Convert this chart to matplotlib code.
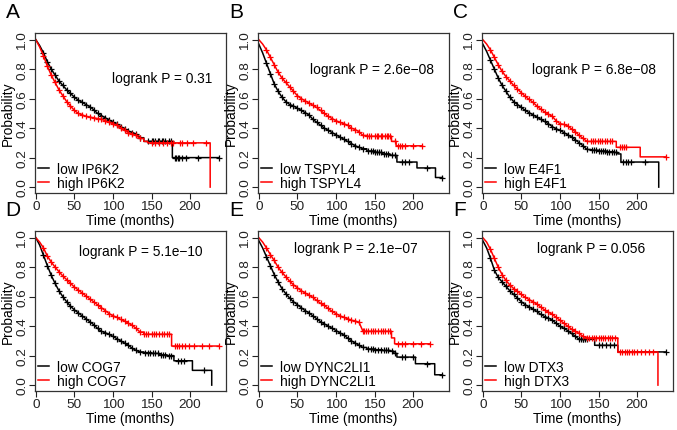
import numpy as np
import matplotlib
matplotlib.use("Agg")
import matplotlib.pyplot as plt

plt.rcParams['font.family'] = ['Liberation Sans', 'DejaVu Sans']

letters = ["A", "B", "C", "D", "E", "F"]
genes = ["IP6K2", "TSPYL4", "E4F1", "COG7", "DYNC2LI1", "DTX3"]
pvals = ["0.31", "2.6e\u221208", "6.8e\u221208", "5.1e\u221210", "2.1e\u221207", "0.056"]
p_x = [164, 147, 144, 136, 126, 140]
p_y = [0.74, 0.80, 0.80, 0.91, 0.93, 0.93]

# common early time grid (months)
grid = [0, 5, 10, 15, 20, 25, 30, 35, 40, 45, 50, 55, 60, 65, 70, 75, 80, 85,
        90, 95, 100, 105, 110, 115, 120, 125, 130, 135]

# ---- A: IP6K2
A_low_s = [1.0, 0.96, 0.91, 0.85, 0.80, 0.76, 0.72, 0.69, 0.66, 0.635, 0.61, 0.59, 0.575, 0.56,
           0.545, 0.525, 0.50, 0.485, 0.47, 0.455, 0.44, 0.425, 0.41, 0.395, 0.38, 0.37, 0.36, 0.335]
A_low_tt = [140, 177, 237]
A_low_ts = [0.31, 0.20, 0.20]
A_low_c = [145, 150, 152, 155, 158, 160, 163, 165, 168, 172, 175, 180, 182, 184, 186, 190, 195, 210, 237]
A_high_s = [1.0, 0.95, 0.89, 0.82, 0.76, 0.71, 0.66, 0.62, 0.58, 0.55, 0.52, 0.50, 0.49, 0.48,
            0.475, 0.47, 0.465, 0.46, 0.45, 0.44, 0.43, 0.42, 0.40, 0.385, 0.37, 0.36, 0.35, 0.33]
A_high_tt = [140, 145, 226, 226]
A_high_ts = [0.31, 0.30, 0.0, 0.0]
A_high_c = [150, 155, 160, 165, 170, 175, 178, 187, 190, 196, 204, 221]

# ---- B: TSPYL4
B_low_s = [0.97, 0.91, 0.84, 0.77, 0.70, 0.65, 0.61, 0.58, 0.56, 0.55, 0.535, 0.52, 0.505, 0.49,
           0.46, 0.44, 0.42, 0.40, 0.385, 0.37, 0.355, 0.34, 0.325, 0.31, 0.295, 0.28, 0.27, 0.26]
B_low_tt = [140, 150, 160, 170, 179, 205, 229, 238]
B_low_ts = [0.245, 0.235, 0.225, 0.215, 0.17, 0.13, 0.065, 0.065]
B_low_c = [142, 145, 148, 150, 153, 156, 158, 162, 165, 168, 172, 176, 185, 190, 195, 218, 238]
B_high_s = [1.0, 0.97, 0.93, 0.88, 0.83, 0.78, 0.74, 0.71, 0.68, 0.65, 0.62, 0.60, 0.585, 0.57,
            0.555, 0.54, 0.52, 0.50, 0.48, 0.465, 0.45, 0.44, 0.43, 0.42, 0.40, 0.39, 0.375, 0.35]
B_high_tt = [140, 172, 178, 212]
B_high_ts = [0.345, 0.31, 0.28, 0.28]
B_high_c = [140, 143, 146, 150, 153, 155, 158, 160, 163, 166, 168, 170, 176, 180, 183, 186, 190, 200, 212]

# ---- C: E4F1
C_low_s = [0.97, 0.92, 0.86, 0.80, 0.74, 0.69, 0.65, 0.61, 0.58, 0.56, 0.54, 0.52, 0.505, 0.49,
           0.475, 0.46, 0.445, 0.43, 0.41, 0.395, 0.385, 0.37, 0.355, 0.34, 0.32, 0.30, 0.28, 0.255]
C_low_tt = [140, 150, 160, 170, 175, 179, 228, 228]
C_low_ts = [0.25, 0.245, 0.24, 0.235, 0.225, 0.17, 0.0, 0.0]
C_low_c = [141, 144, 147, 150, 153, 156, 158, 161, 164, 167, 170, 173, 182, 185, 188, 192, 210]
C_high_s = [1.0, 0.97, 0.93, 0.88, 0.83, 0.785, 0.75, 0.72, 0.69, 0.665, 0.64, 0.615, 0.595, 0.575,
            0.55, 0.53, 0.51, 0.495, 0.48, 0.45, 0.43, 0.425, 0.415, 0.395, 0.375, 0.35, 0.33, 0.31]
C_high_tt = [173, 204, 237]
C_high_ts = [0.27, 0.205, 0.205]
C_high_c = [140, 143, 146, 149, 152, 155, 158, 161, 165, 168, 178, 180, 183, 186, 237]

# ---- D: COG7
D_low_s = [1.0, 0.95, 0.88, 0.81, 0.745, 0.69, 0.64, 0.60, 0.565, 0.535, 0.51, 0.49, 0.47, 0.45,
           0.43, 0.41, 0.385, 0.365, 0.355, 0.345, 0.33, 0.315, 0.30, 0.285, 0.27, 0.25, 0.235, 0.225]
D_low_tt = [140, 150, 160, 170, 179, 203, 228, 228]
D_low_ts = [0.22, 0.215, 0.205, 0.20, 0.165, 0.10, 0.0, 0.0]
D_low_c = [142, 145, 148, 152, 155, 158, 162, 165, 168, 172, 175, 184, 188, 192, 218]
D_high_s = [1.0, 0.97, 0.93, 0.875, 0.835, 0.80, 0.77, 0.74, 0.715, 0.69, 0.665, 0.645, 0.625, 0.605,
            0.585, 0.565, 0.545, 0.525, 0.505, 0.485, 0.47, 0.46, 0.445, 0.435, 0.42, 0.405, 0.385, 0.36]
D_high_tt = [140, 176, 237]
D_high_ts = [0.345, 0.265, 0.265]
D_high_c = [140, 143, 146, 150, 153, 156, 160, 163, 166, 170, 173, 180, 183, 186, 190, 194, 198, 205, 215, 225, 237]

# ---- E: DYNC2LI1
E_low_s = [0.98, 0.93, 0.87, 0.81, 0.75, 0.70, 0.655, 0.62, 0.59, 0.565, 0.545, 0.525, 0.505, 0.49,
           0.47, 0.45, 0.43, 0.415, 0.40, 0.385, 0.37, 0.355, 0.34, 0.32, 0.30, 0.285, 0.27, 0.255]
E_low_tt = [140, 150, 160, 170, 175, 179, 203, 228, 238]
E_low_ts = [0.245, 0.24, 0.235, 0.23, 0.215, 0.19, 0.145, 0.07, 0.07]
E_low_c = [142, 145, 148, 151, 155, 158, 162, 165, 168, 172, 176, 185, 190, 200, 218, 238]
E_high_s = [1.0, 0.97, 0.93, 0.885, 0.845, 0.80, 0.765, 0.735, 0.705, 0.68, 0.66, 0.64, 0.625, 0.61,
            0.595, 0.575, 0.555, 0.54, 0.52, 0.50, 0.485, 0.47, 0.46, 0.45, 0.44, 0.435, 0.425, 0.365]
E_high_tt = [172, 176, 222]
E_high_ts = [0.32, 0.28, 0.28]
E_high_c = [136, 139, 142, 145, 148, 151, 154, 158, 161, 164, 167, 170, 180, 185, 190, 200, 210, 222]

# ---- F: DTX3
F_low_s = [0.98, 0.93, 0.86, 0.78, 0.73, 0.70, 0.67, 0.64, 0.615, 0.59, 0.565, 0.545, 0.53, 0.515,
           0.50, 0.48, 0.465, 0.455, 0.44, 0.42, 0.40, 0.385, 0.37, 0.35, 0.33, 0.31, 0.31, 0.31]
F_low_tt = [145, 175, 237]
F_low_ts = [0.27, 0.225, 0.225]
F_low_c = [127, 130, 133, 150, 155, 160, 165, 170, 237]
F_high_s = [1.0, 0.97, 0.92, 0.86, 0.80, 0.75, 0.71, 0.68, 0.655, 0.635, 0.615, 0.595, 0.58, 0.565,
            0.55, 0.53, 0.51, 0.495, 0.48, 0.46, 0.44, 0.42, 0.40, 0.38, 0.365, 0.35, 0.33, 0.32]
F_high_tt = [175, 227, 227]
F_high_ts = [0.225, 0.0, 0.0]
F_high_c = [138, 141, 144, 147, 150, 153, 156, 159, 162, 165, 168, 171, 178, 181, 184, 187, 190,
            193, 196, 200, 205, 210, 215, 220]

panels = [
    ((A_low_s, A_low_tt, A_low_ts, A_low_c), (A_high_s, A_high_tt, A_high_ts, A_high_c)),
    ((B_low_s, B_low_tt, B_low_ts, B_low_c), (B_high_s, B_high_tt, B_high_ts, B_high_c)),
    ((C_low_s, C_low_tt, C_low_ts, C_low_c), (C_high_s, C_high_tt, C_high_ts, C_high_c)),
    ((D_low_s, D_low_tt, D_low_ts, D_low_c), (D_high_s, D_high_tt, D_high_ts, D_high_c)),
    ((E_low_s, E_low_tt, E_low_ts, E_low_c), (E_high_s, E_high_tt, E_high_ts, E_high_c)),
    ((F_low_s, F_low_tt, F_low_ts, F_low_c), (F_high_s, F_high_tt, F_high_ts, F_high_c)),
]

W, H = 677, 431
fig = plt.figure(figsize=(W / 100, H / 100), dpi=100)

col_left = [35, 258, 482]
col_w = 191
row_top = [34, 232]
row_h = 160
FS = 9.7


def build_path(early, tt, ts):
    # dense early part: many tiny KM steps -> drawn through the read points
    xs = list(grid)
    ys = list(early)
    prev = ys[-1]
    for t_i, s_i in zip(tt, ts):
        xs += [t_i, t_i]
        ys += [prev, s_i]
        prev = s_i
    return np.array(xs, float), np.array(ys, float)


for k in range(6):
    r, c = divmod(k, 3)
    l = col_left[c]
    top = row_top[r]
    ax = fig.add_axes([l / W, 1 - (top + row_h) / H, col_w / W, row_h / H])
    handles = []
    for (early, tt, ts, cens), color, lab in zip(panels[k], ["black", "#FF0000"], ["low", "high"]):
        xs, ys = build_path(early, tt, ts)
        h, = ax.plot(xs, ys, color=color, lw=1.1, label=f"{lab} {genes[k]}")
        handles.append(h)
        dense = [g for g in grid if g >= 10 and g < tt[0]]
        # censor marks: on the early grid points, then the tail censor times
        ax.plot(dense, [early[grid.index(g)] for g in dense], ls='none',
                marker='+', ms=5, mew=0.9, color=color)
        cs = np.array(cens, dtype=float)
        tvals = np.array(tt, float)
        svals = np.array(ts, float)
        idx = np.searchsorted(tvals, cs, side='right') - 1
        cy = np.where(idx < 0, early[-1], svals[np.clip(idx, 0, None)])
        ax.plot(cs, cy, ls='none', marker='+', ms=5, mew=0.9, color=color)
    ax.set_xlim(-1, 246.5)
    ax.set_ylim(-0.04, 1.045)
    ax.set_xticks([0, 50, 100, 150, 200])
    ax.set_yticks([0.0, 0.2, 0.4, 0.6, 0.8, 1.0])
    ax.set_yticklabels(["0.0", "0.2", "0.4", "0.6", "0.8", "1.0"], rotation=90, va='center')
    ax.tick_params(labelsize=FS, length=4, width=0.8, pad=1.0, colors='#222222')
    ax.tick_params(axis='y', pad=1.0)
    for sp in ax.spines.values():
        sp.set_color('#333333')
        sp.set_linewidth(0.9)
    ax.set_xlabel("Time (months)", fontsize=FS + 0.2, labelpad=1.0)
    ax.set_ylabel("Probability", fontsize=FS + 0.2, labelpad=1.0)
    ax.text(p_x[k], p_y[k], "logrank P = " + pvals[k], ha='center', va='center', fontsize=FS + 0.2)
    ax.legend(handles=handles, loc='lower left', frameon=False, fontsize=FS + 0.2,
              handlelength=0.8, handletextpad=0.6, borderaxespad=0.0, labelspacing=0.0,
              borderpad=0.2)
    fig.text((l - 22) / W, 1 - (top - 21) / H, letters[k], fontsize=15, ha='center', va='center')

fig.savefig("out.png", dpi=100)
